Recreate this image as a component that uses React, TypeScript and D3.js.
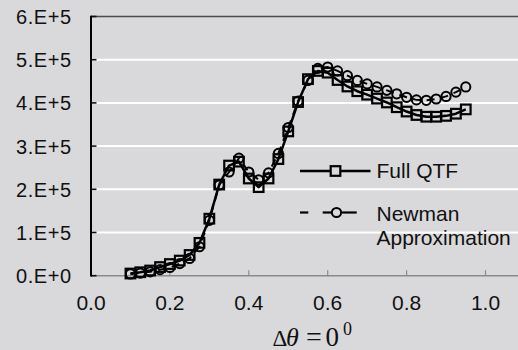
import React from "react";
import * as d3 from "d3";

const xValues = [0.1, 0.125, 0.15, 0.175, 0.2, 0.225, 0.25, 0.275, 0.3, 0.325, 0.35, 0.375, 0.4, 0.425, 0.45, 0.475, 0.5, 0.525, 0.55, 0.575, 0.6, 0.625, 0.65, 0.675, 0.7, 0.725, 0.75, 0.775, 0.8, 0.825, 0.85, 0.875, 0.9, 0.925, 0.95];
const fullQTF = [5000, 8000, 12000, 20000, 27000, 35000, 48000, 76000, 132000, 211000, 255000, 264000, 225000, 205000, 225000, 270000, 334000, 402000, 455000, 474000, 470000, 453000, 438000, 427000, 419000, 410000, 401000, 390000, 380000, 372000, 368000, 368000, 370000, 375000, 385000];
const newman = [4000, 6000, 9000, 14000, 19000, 28000, 40000, 67000, 128000, 210000, 240000, 272000, 240000, 222000, 238000, 283000, 343000, 404000, 452000, 480000, 483000, 474000, 463000, 452000, 444000, 437000, 429000, 421000, 413000, 407000, 406000, 409000, 415000, 425000, 437000];
const yTicks = [0, 100000, 200000, 300000, 400000, 500000, 600000];
const yTickLabels = ["0.E+0", "1.E+5", "2.E+5", "3.E+5", "4.E+5", "5.E+5", "6.E+5"];
const xTicks = [0, 0.2, 0.4, 0.6, 0.8, 1.0];
const xTickLabels = ["0.0", "0.2", "0.4", "0.6", "0.8", "1.0"];
const seriesNames = ["Full QTF", "Newman", "Approximation"];

const W = 518;
const H = 350;
const BG = "#d9d9db";

export default function App() {
  const x = d3.scaleLinear().domain([0, 1.2]).range([91, 91 + 78.9 * 6]);
  const y = d3.scaleLinear().domain([0, 600000]).range([275.7, 16.5]);
  const pts1 = xValues.map((v, i) => [x(v), y(fullQTF[i])] as [number, number]);
  const pts2 = xValues.map((v, i) => [x(v), y(newman[i])] as [number, number]);
  const line = d3.line();
  const sans = "'Liberation Sans', Arial, sans-serif";
  const serif = "'Liberation Serif', 'Times New Roman', serif";
  const x0 = x(0);
  const yBottom = y(0);
  const yTop = y(600000);

  return (
    <svg width={W} height={H} style={{ position: "absolute", left: 0, top: 0, display: "block" }}>
      <rect x={0} y={0} width={W} height={H} fill={BG} />
      {yTicks.slice(1, -1).map((t) => (
        <line key={"g" + t} x1={x0} x2={W} y1={y(t)} y2={y(t)} stroke="#ffffff" strokeWidth={2} />
      ))}
      <line x1={x0} x2={W} y1={yTop} y2={yTop} stroke="#4a4a4a" strokeWidth={1.6} />
      <line x1={x0} x2={W} y1={yBottom} y2={yBottom} stroke="#8a8a8a" strokeWidth={1.6} />
      {xTicks.map((t) => (
        <line key={"xt" + t} x1={x(t)} x2={x(t)} y1={yBottom} y2={yBottom - 5.5} stroke="#8a8a8a" strokeWidth={1.2} />
      ))}
      {yTicks.map((t) => (
        <line key={"yt" + t} x1={x0} x2={x0 + 5.5} y1={y(t)} y2={y(t)} stroke="#111" strokeWidth={1.6} />
      ))}
      <line x1={x0} x2={x0} y1={yTop - 0.8} y2={yBottom + 0.8} stroke="#000" strokeWidth={2} />
      {yTicks.map((t, i) => (
        <text key={"yl" + t} x={71} y={y(t) + 7.5} textAnchor="end" fontFamily={sans} fontSize={20} fill="#111" textLength={55} lengthAdjust="spacing">
          {yTickLabels[i]}
        </text>
      ))}
      {xTicks.map((t, i) => (
        <text key={"xl" + t} x={x(t)} y={309.5} textAnchor="middle" fontFamily={sans} fontSize={21} fill="#111">
          {xTickLabels[i]}
        </text>
      ))}
      <path d={line(pts1) || ""} fill="none" stroke="#000" strokeWidth={2.5} strokeLinejoin="round" />
      {pts1.map((p, i) => (
        <rect key={"s" + i} x={p[0] - 4.8} y={p[1] - 4.8} width={9.6} height={9.6} fill="none" stroke="#000" strokeWidth={2.2} />
      ))}
      <path d={line(pts2) || ""} fill="none" stroke="#000" strokeWidth={2} strokeDasharray="8,6" />
      {pts2.map((p, i) => (
        <circle key={"c" + i} cx={p[0]} cy={p[1]} r={4.6} fill="none" stroke="#000" strokeWidth={2} />
      ))}
      <line x1={300} x2={370.5} y1={171} y2={171} stroke="#000" strokeWidth={2.5} />
      <rect x={335.5 - 4.8} y={171 - 4.8} width={9.6} height={9.6} fill={BG} stroke="#000" strokeWidth={2.2} />
      <text x={376.5} y={177.5} fontFamily={sans} fontSize={21} fill="#111">{seriesNames[0]}</text>
      <line x1={300} x2={308.3} y1={212.5} y2={212.5} stroke="#000" strokeWidth={2.2} />
      <line x1={322.7} x2={331} y1={212.5} y2={212.5} stroke="#000" strokeWidth={2.2} />
      <line x1={342} x2={356.7} y1={212.5} y2={212.5} stroke="#000" strokeWidth={2.2} />
      <circle cx={336.5} cy={212.5} r={4.6} fill={BG} stroke="#000" strokeWidth={2} />
      <text x={376.5} y={220.5} fontFamily={sans} fontSize={21} fill="#111">{seriesNames[1]}</text>
      <text x={376.5} y={244.5} fontFamily={sans} fontSize={21} fill="#111">{seriesNames[2]}</text>
      <text y={345.5} fontFamily={serif} fill="#111">
        <tspan x={272.5} fontSize={23}>Δ</tspan>
        <tspan x={286} fontSize={26} fontStyle="italic">θ</tspan>
        <tspan x={306} fontSize={28}>=</tspan>
        <tspan x={325.5} fontSize={27}>0</tspan>
      </text>
      <text x={343} y={334.5} fontFamily={serif} fontSize={18} fill="#111">0</text>
    </svg>
  );
}
